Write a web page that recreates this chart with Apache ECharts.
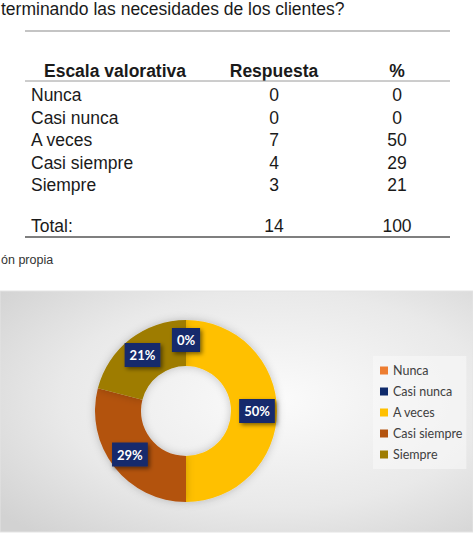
<!DOCTYPE html>
<html>
<head>
<meta charset="utf-8">
<script src="https://cdn.jsdelivr.net/npm/echarts@6/dist/echarts.min.js"></script>
<style>
    html, body {margin: 0; padding: 0; background: #fff;}
    #main {width: 473px; height: 543px;}
</style>
</head>
<body>
<div id="main"></div>
<script>
// datos de la tabla / gráfico
const categories = ['Nunca', 'Casi nunca', 'A veces', 'Casi siempre', 'Siempre'];
const responses = [0, 0, 7, 4, 3];
const percents = [0, 0, 50, 29, 21];
const totalLabel = 'Total:';
const totalResponses = 14;
const totalPercent = 100;
const headers = ['Escala valorativa', 'Respuesta', '%'];
const questionText = 'terminando las necesidades de los clientes?';
const sourceText = 'ón propia';
const sliceColors = ['#ED7D31', '#0F2A6B', '#FFC000', '#B3530F', '#9E7C02'];

const tableFont = '"Liberation Sans", Arial, sans-serif';
const chartFont = 'Lato, "Open Sans", sans-serif';

// texto en la tabla
const txt = (x, y, text, opts = {}) => ({
    type: 'text',
    x, y,
    style: {
        text: String(text),
        fill: opts.fill || '#1a1a1a',
        font: (opts.bold ? 'bold ' : '') + (opts.size || 17.5) + 'px ' + tableFont,
        align: opts.align || 'left',
        verticalAlign: 'middle'
    }
});
const hline = (y, x1, x2, color, w) => ({
    type: 'line',
    shape: {x1, y1: y, x2, y2: y},
    style: {stroke: color, lineWidth: w}
});

const colX = [31, 274, 397];
const rowY0 = 95;
const rowStep = 22.5;

const tableElements = [
    txt(1, 9, questionText),
    hline(31, 25, 450, '#8a8a8a', 1.2),
    txt(115, 71, headers[0], {bold: true, align: 'center'}),
    txt(colX[1], 71, headers[1], {bold: true, align: 'center'}),
    txt(colX[2], 71, headers[2], {bold: true, align: 'center'}),
    hline(81, 25, 450, '#9a9a9a', 1),
    hline(237, 25, 450, '#555555', 1.5),
    txt(colX[0], 226, totalLabel),
    txt(colX[1], 226, totalResponses, {align: 'center'}),
    txt(colX[2], 226, totalPercent, {align: 'center'}),
    txt(1, 260, sourceText, {size: 12.5, fill: '#333'})
];
categories.forEach((c, i) => {
    const y = rowY0 + i * rowStep;
    tableElements.push(txt(colX[0], y, c));
    tableElements.push(txt(colX[1], y, responses[i], {align: 'center'}));
    tableElements.push(txt(colX[2], y, percents[i], {align: 'center'}));
});

const chart = echarts.init(document.getElementById('main'), null, {renderer: 'svg'});
const option = {
    backgroundColor: '#fff',
    animation: false,
    graphic: [
        {
            type: 'rect',
            z: -10,
            shape: {x: 0, y: 291, width: 473, height: 241},
            style: {
                fill: {
                    type: 'radial', x: 0.58, y: 0.45, r: 0.75,
                    colorStops: [
                        {offset: 0, color: '#fbfbfb'},
                        {offset: 0.6, color: '#e9e9e9'},
                        {offset: 1, color: '#d2d2d2'}
                    ]
                },
                stroke: '#e4e4e4',
                lineWidth: 1
            }
        },
        ...tableElements
    ],
    legend: {
        orient: 'vertical',
        left: 373,
        top: 356,
        padding: [8, 4, 8, 7],
        backgroundColor: 'rgba(250,250,250,0.55)',
        itemWidth: 8,
        itemHeight: 8,
        itemGap: 8,
        icon: 'rect',
        selectedMode: false,
        textStyle: {fontFamily: chartFont, fontSize: 12.5, color: '#404040'},
        data: categories
    },
    series: [
        {
            type: 'pie',
            center: [186, 411],
            radius: [45, 91],
            startAngle: 90,
            clockwise: true,
            avoidLabelOverlap: false,
            itemStyle: {
                shadowBlur: 8,
                shadowColor: 'rgba(0,0,0,0.22)'
            },
            label: {
                show: true,
                position: 'inside',
                formatter: p => p.value + '%',
                color: '#fff',
                fontFamily: chartFont,
                fontWeight: 'bold',
                fontSize: 13,
                backgroundColor: '#142B6C',
                padding: [6, 5, 5, 5],
                shadowBlur: 4,
                shadowOffsetX: 2,
                shadowOffsetY: 2,
                shadowColor: 'rgba(0,0,0,0.5)'
            },
            labelLine: {show: false},
            emphasis: {disabled: true},
            data: categories.map((c, i) => ({
                name: c,
                value: percents[i],
                itemStyle: {color: sliceColors[i]}
            }))
        }
    ]
};
chart.setOption(option);
</script>
</body>
</html>
